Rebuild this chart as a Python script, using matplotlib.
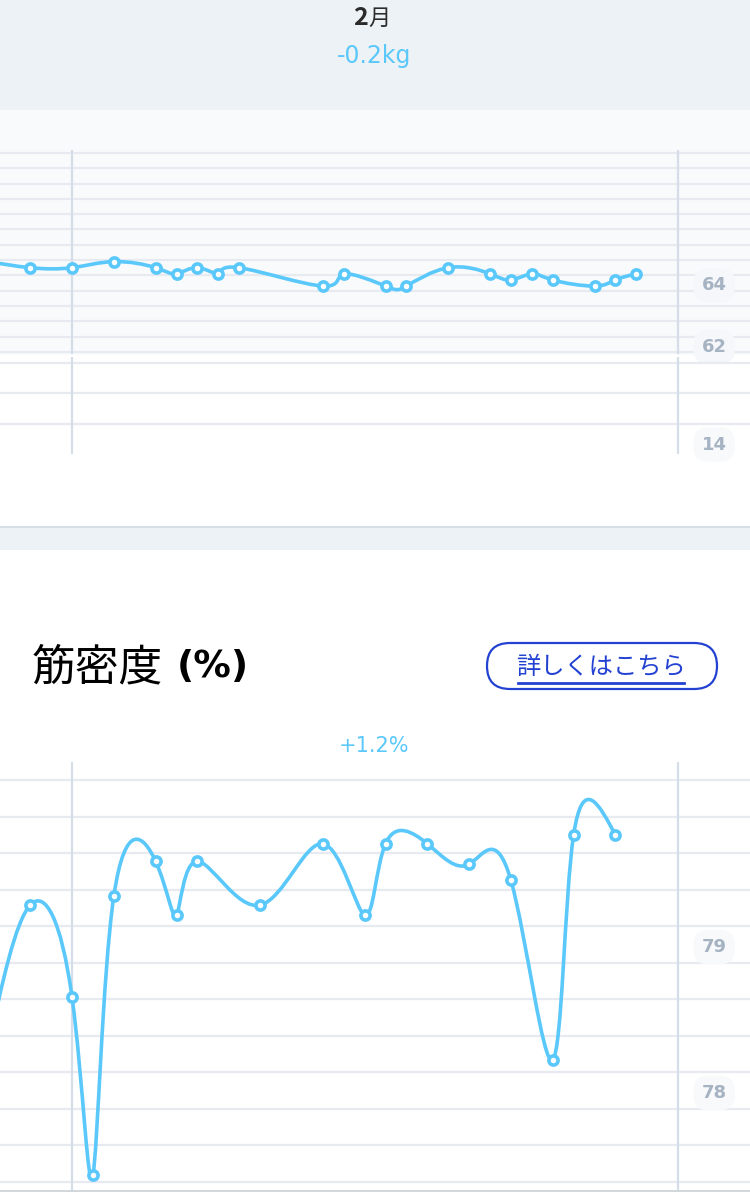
import numpy as np
import matplotlib
matplotlib.use("Agg")
import matplotlib.pyplot as plt
from matplotlib.path import Path
from matplotlib.patches import PathPatch, Rectangle, FancyBboxPatch
from matplotlib.transforms import offset_copy

plt.rcParams["font.family"] = ["Noto Sans CJK JP", "DejaVu Sans"]

W, H = 750, 1192

# 日付は 2月1日 からの日数 (先頭の点は画面外)
WEIGHT_DAYS = [-4, -2, 0, 2, 4, 5, 6, 7, 8, 12, 13, 15, 16, 18, 20, 21, 22, 23, 25, 26, 27]
WEIGHT_KG = [64.7, 64.5, 64.5, 64.7, 64.5, 64.3, 64.5, 64.3, 64.5, 63.9, 64.3,
             63.9, 63.9, 64.5, 64.3, 64.1, 64.3, 64.1, 63.9, 64.1, 64.3]
WEIGHT_TICKS = [64, 62]
FAT_TICKS = [14]

MUSCLE_DAYS = [-4, -2, 0, 1, 2, 4, 5, 6, 9, 12, 14, 15, 17, 19, 21, 23, 24, 26]
MUSCLE_PCT = [78.30, 79.27, 78.64, 77.42, 79.33, 79.57, 79.20, 79.57, 79.27,
              79.69, 79.20, 79.69, 79.69, 79.55, 79.44, 78.21, 79.75, 79.75]
MUSCLE_TICKS = [79, 78]

MONTH_LINES = [0, 29]
MONTH_LABEL = "月"
MONTH_NUM = "2"
WEIGHT_CHANGE = "-0.2kg"
MUSCLE_CHANGE = "+1.2%"
TITLE = "筋密度"
TITLE_UNIT = "(%)"
BUTTON = "詳しくはこちら"

BLUE = "#5ac8fa"
GRID = "#e7ebf1"
VLINE = "#d5dde8"
LABEL = "#a6b3c2"
BAND = "#edf2f6"
PANEL = "#f8fafc"
BTN = "#2442d2"

# x: 1日 = 20.9px, 2月1日 = 72px
XLIM = (-72 / 20.9, (W - 72) / 20.9)


def rect(top, bottom):
    return [0, 1 - bottom / H, 1, (bottom - top) / H]


def control_points(v):
    # 自然スプライン (インデックスをパラメータにした d3.curveNatural と同じ計算)
    v = list(map(float, v))
    n = len(v) - 1
    a = [0.0] * n
    b = [0.0] * n
    r = [0.0] * n
    a[0], b[0], r[0] = 0, 2, v[0] + 2 * v[1]
    for i in range(1, n - 1):
        a[i], b[i], r[i] = 1, 4, 4 * v[i] + 2 * v[i + 1]
    a[n - 1], b[n - 1], r[n - 1] = 2, 7, 8 * v[n - 1] + v[n]
    for i in range(1, n):
        m = a[i] / b[i - 1]
        b[i] -= m
        r[i] -= m * r[i - 1]
    a[n - 1] = r[n - 1] / b[n - 1]
    for i in range(n - 2, -1, -1):
        a[i] = (r[i] - a[i + 1]) / b[i]
    b[n - 1] = (v[n] + a[n - 1]) / 2
    for i in range(n - 1):
        b[i] = 2 * v[i + 1] - a[i + 1]
    return a, b


def spline_path(xs, ys):
    ax_, bx_ = control_points(xs)
    ay_, by_ = control_points(ys)
    verts = [(xs[0], ys[0])]
    codes = [Path.MOVETO]
    for i in range(len(xs) - 1):
        verts += [(ax_[i], ay_[i]), (bx_[i], by_[i]), (xs[i + 1], ys[i + 1])]
        codes += [Path.CURVE4] * 3
    return Path(verts, codes)


def chart_axes(top, bottom, ylim, grid_values):
    ax = fig.add_axes(rect(top, bottom))
    ax.set_facecolor("none")
    ax.set_xlim(*XLIM)
    ax.set_ylim(*ylim)
    ax.set_yticks(grid_values)
    ax.set_xticks([])
    ax.tick_params(length=0, labelleft=False)
    ax.yaxis.grid(True, color=GRID, lw=1.6)
    ax.set_axisbelow(True)
    for spine in ax.spines.values():
        spine.set_visible(False)
    for d in MONTH_LINES:
        ax.axvline(d, color=VLINE, lw=1.6, zorder=1)
    return ax


def draw_series(ax, days, values):
    ax.add_patch(PathPatch(spline_path(days, values), facecolor="none", edgecolor=BLUE,
                           lw=2.6, capstyle="round", joinstyle="round", zorder=3))
    ax.plot(days, values, "o", ms=6.6, mfc="white", mec=BLUE, mew=2.6, zorder=4)


def tick_labels(ax, values, face):
    tr = offset_copy(ax.transData, fig=fig, y=-2.5, units="dots")
    for v in values:
        ax.text(30.72, v, str(v), transform=tr, ha="center", va="center", fontsize=13,
                fontweight="bold", color=LABEL, family="DejaVu Sans", clip_on=False, zorder=5,
                bbox=dict(boxstyle="round,pad=0.45,rounding_size=0.8", fc=face, ec="none"))


fig = plt.figure(figsize=(W / 100, H / 100), dpi=100, facecolor="white")

# 背景と固定テキスト (ピクセル座標)
bg = fig.add_axes([0, 0, 1, 1])
bg.set_xlim(0, W)
bg.set_ylim(H, 0)
bg.axis("off")
bg.add_patch(Rectangle((0, 0), W, 110, fc=BAND, ec="none"))
bg.add_patch(Rectangle((0, 110), W, 245, fc=PANEL, ec="none"))
bg.add_patch(Rectangle((0, 526), W, 24, fc=BAND, ec="none"))
bg.plot([0, W], [526.5, 526.5], color="#d6dee6", lw=1.5)
bg.plot([0, W], [1191, 1191], color="#c9cfd6", lw=1.2)

bg.text(367.5, 18, MONTH_NUM, ha="right", va="center", fontsize=18, fontweight="bold", color="#2b2b2b")
bg.text(368.5, 18, MONTH_LABEL, ha="left", va="center", fontsize=16, color="#2b2b2b")
bg.text(374, 56, WEIGHT_CHANGE, ha="center", va="center", fontsize=17, color=BLUE,
        family="DejaVu Sans")

bg.text(32, 667, TITLE, ha="left", va="center", fontsize=31.5, color="black")
bg.text(177, 667, TITLE_UNIT, ha="left", va="center", fontsize=27, fontweight="bold",
        color="black", family="DejaVu Sans")
bg.add_patch(FancyBboxPatch((487, 643), 230, 46, boxstyle="round,pad=0,rounding_size=23",
                            fc="white", ec=BTN, lw=1.6))
bg.text(601, 667, BUTTON, ha="center", va="center", fontsize=17.5, color=BTN)
bg.plot([518, 684], [682.5, 682.5], color=BTN, lw=2)
bg.text(374, 746, MUSCLE_CHANGE, ha="center", va="center", fontsize=15, color=BLUE,
        family="DejaVu Sans")

# 体重
ax1 = chart_axes(150, 354, (64 - 71 / 30.6, 64 + 133 / 30.6), np.arange(61.75, 68.3, 0.5))
draw_series(ax1, WEIGHT_DAYS, WEIGHT_KG)
tick_labels(ax1, WEIGHT_TICKS, "#f5f7fa")

# 体脂肪 (空)
ax1b = chart_axes(357, 454, (14 - 12 / 31, 14 + 85 / 31), [14.57, 15.57, 16.55])
tick_labels(ax1b, FAT_TICKS, "#f7f9fb")

# 筋密度
ax2 = chart_axes(762, 1190, (79 - 245.5 / 146, 79 + 182.5 / 146), np.arange(77.375, 80.2, 0.25))
draw_series(ax2, MUSCLE_DAYS, MUSCLE_PCT)
tick_labels(ax2, MUSCLE_TICKS, "#f8f9fb")

fig.savefig("out.png", dpi=100, facecolor="white")
